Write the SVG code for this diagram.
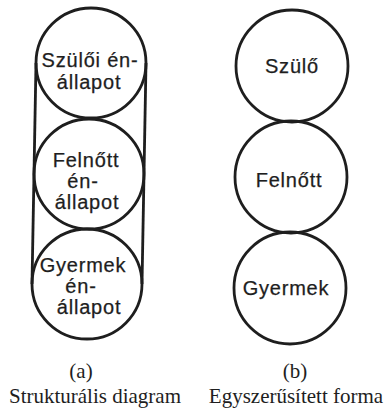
<svg xmlns="http://www.w3.org/2000/svg" width="390" height="413" viewBox="0 0 390 413">
  <style>
    .ring { fill: none; stroke: #1e1e1e; stroke-width: 2.8; }
    .rail { stroke: #1e1e1e; stroke-width: 2.8; fill: none; }
    .lbl { font-family: "Liberation Sans", Arial, sans-serif; font-size: 20px; fill: #1e1e1e; stroke: #1e1e1e; stroke-width: 0.25; text-anchor: middle; letter-spacing: 0.8px; }
    .cap { font-family: "Liberation Serif", "Times New Roman", serif; fill: #1e1e1e; text-anchor: middle; }
  </style>
  <rect width="390" height="413" fill="#ffffff"/>

  <!-- (a) structural diagram: three stacked ego states inside one outline -->
  <g id="connectors">
    <line class="rail" x1="36" y1="63" x2="32" y2="284"/>
    <line class="rail" x1="146" y1="63" x2="142" y2="284"/>
  </g>

  <g id="a-szulo">
    <circle class="ring" cx="91" cy="63" r="55"/>
    <text class="lbl" x="90" y="67">Szülői én-</text>
    <text class="lbl" x="89" y="89">állapot</text>
  </g>

  <g id="a-felnott">
    <circle class="ring" cx="89" cy="174" r="55"/>
    <text class="lbl" x="86" y="167">Felnőtt</text>
    <text class="lbl" x="83" y="188">én-</text>
    <text class="lbl" x="87" y="209">állapot</text>
  </g>

  <g id="a-gyermek">
    <circle class="ring" cx="87" cy="284" r="55"/>
    <text class="lbl" x="83" y="272">Gyermek</text>
    <text class="lbl" x="81" y="293">én-</text>
    <text class="lbl" x="89" y="314">állapot</text>
  </g>

  <g id="caption-a">
    <text class="cap" x="81" y="378" font-size="21">(a)</text>
    <text class="cap" x="95" y="403" font-size="21">Strukturális diagram</text>
  </g>

  <!-- (b) simplified form -->
  <g id="b-szulo">
    <circle class="ring" cx="292" cy="66" r="56"/>
    <text class="lbl" x="292" y="73">Szülő</text>
  </g>

  <g id="b-felnott">
    <circle class="ring" cx="291" cy="177" r="56"/>
    <text class="lbl" x="289" y="187">Felnőtt</text>
  </g>

  <g id="b-gyermek">
    <circle class="ring" cx="290" cy="288" r="56"/>
    <text class="lbl" x="286" y="295">Gyermek</text>
  </g>

  <g id="caption-b">
    <text class="cap" x="295" y="378" font-size="21">(b)</text>
    <text class="cap" x="296" y="403" font-size="21">Egyszerűsített forma</text>
  </g>
</svg>
